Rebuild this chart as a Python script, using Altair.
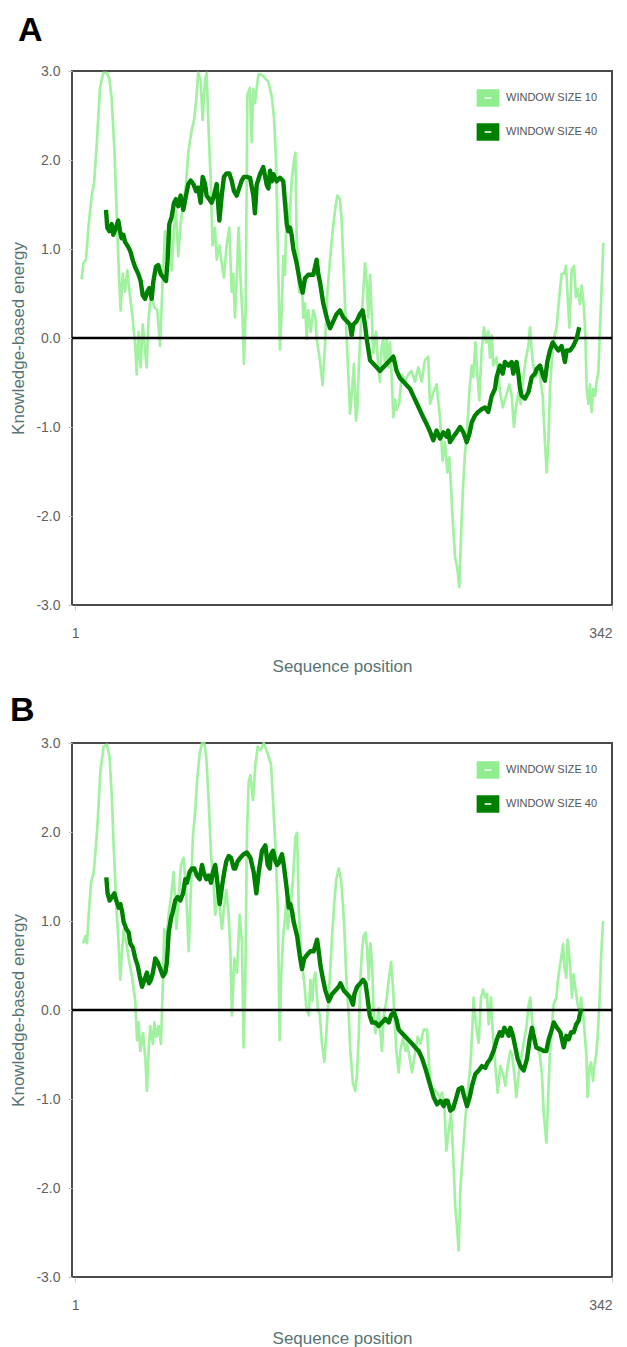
import altair as alt
import pandas as pd

# ---------------- data ----------------
LABEL10 = "WINDOW SIZE 10"
LABEL40 = "WINDOW SIZE 40"
SERIES = [LABEL10, LABEL40]
COLORS = ["#90ee90", "#008000"]
Y_TICKS = [-3, -2, -1, 0, 1, 2, 3]
X_TICKS = [1, 342]

# Panel A, window size 10
A_W10_POS = [5.1, 6.2, 7.9, 9.4, 11.5, 13.0, 14.7, 16.8, 18.9, 21.0, 22.7, 24.2, 25.9, 27.4, 28.8, 29.9,
             31.2, 32.7, 34.1, 35.8, 37.5, 39.2, 40.1, 41.3, 42.6, 43.9, 45.2, 46.4, 47.7, 49.4, 51.1,
             53.2, 54.9, 56.6, 58.1, 59.5, 60.8, 62.3, 63.8, 65.0, 66.5, 68.0, 69.7, 71.4, 72.9, 75.0,
             76.5, 77.8, 79.2, 80.7, 82.0, 83.5, 84.5, 85.8, 87.1, 88.3, 89.8, 90.9, 92.6, 94.1, 95.5,
             97.2, 98.9, 100.4, 101.5, 102.5, 103.6, 104.8, 106.1, 107.4, 108.2, 109.3, 110.4, 112.0,
             113.1, 114.2, 115.2, 117.4, 119.5, 121.6, 123.7, 125.8, 127.3, 128.6, 130.1, 131.1, 132.2,
             133.2, 134.3, 135.4, 137.0, 138.5, 140.0, 140.9, 141.7, 143.4, 144.9, 146.0, 147.0, 148.1,
             149.1, 150.6, 152.3, 153.6, 154.4, 156.5, 158.2, 159.7, 161.2, 162.9, 164.6, 166.1, 167.5,
             169.2, 170.3, 171.3, 172.4, 173.5, 174.5, 175.6, 176.6, 178.1, 179.4, 180.2, 181.1, 182.4,
             184.0, 185.1, 186.2, 187.2, 188.3, 189.3, 190.4, 192.1, 193.6, 194.6, 195.7, 196.7, 197.8,
             198.9, 199.9, 201.0, 202.0, 203.1, 204.2, 205.2, 206.9, 208.4, 210.5, 212.6, 214.7, 216.9,
             219.0, 221.1, 223.2, 225.3, 226.4, 228.5, 230.6, 232.8, 234.4, 235.9, 237.4, 238.7, 239.5,
             240.8, 242.3, 243.8, 245.0, 246.5, 247.6, 248.6, 250.1, 251.4, 252.9, 253.9, 255.2, 256.5,
             257.7, 259.2, 260.7, 262.0, 263.4, 264.5, 265.6, 266.6, 268.7, 270.9, 272.6, 274.7, 276.8,
             278.3, 279.7, 281.0, 282.5, 284.0, 285.7, 287.4, 288.9, 289.9, 291.0, 292.0, 293.7, 295.2,
             296.3, 298.0, 299.4, 300.5, 301.6, 302.6, 303.7, 305.2, 306.8, 308.5, 310.0, 311.5, 312.8,
             313.6, 314.9, 316.4, 317.9, 319.1, 320.0, 321.7, 322.7, 324.2, 325.1, 325.9, 327.0, 328.0,
             329.1, 330.1, 331.2, 332.3, 333.3, 334.4, 335.4, 336.5]
A_W10_VAL = [0.66, 0.84, 0.88, 1.24, 1.60, 1.73, 2.17, 2.81, 2.98, 2.98, 2.92, 2.69, 2.13, 1.40, 0.72, 0.31,
             0.72, 0.52, 0.76, 0.48, 0.23, -0.09, -0.41, 0.07, -0.33, 0.15, -0.09, -0.33, 0.23, 0.52, 0.35,
             0.31, -0.09, 0.64, 1.20, 0.88, 1.24, 0.76, 1.24, 1.44, 0.92, 1.28, 1.52, 1.73, 2.09, 2.33,
             2.45, 2.65, 2.98, 2.90, 2.45, 2.90, 2.98, 2.33, 1.77, 1.04, 1.24, 0.88, 1.04, 0.84, 0.68,
             1.04, 1.24, 0.52, 0.72, 0.23, 0.64, 1.24, 0.64, 0.23, -0.29, 0.31, 2.73, 2.81,
             2.20, 2.80, 2.64, 2.96, 2.96, 2.92, 2.88, 2.72, 2.48, 2.00, 0.71, -0.13, 0.31,
             0.92, 0.71, 1.52, 1.24, 1.76, 2.00, 2.08, 1.12, 0.51, 0.63, 0.23, 0.39, -0.01,
             0.31, 0.07, 0.31, 0.23, -0.01, -0.25, -0.53, -0.09, 0.51, 0.88, 1.20, 1.44, 1.60,
             1.56, 1.32, 0.88, 0.39, -0.01, -0.41, -0.85, -0.65, -0.29, -0.93, -0.81, -0.37, 0.11,
             0.51, 0.84, 0.63, 0.23, 0.71, 0.31, -0.17, 0.07, -0.33, -0.49, -0.09, -0.01, -0.29,
             -0.01, -0.33, -0.05, -0.41, -0.89, -0.69, -0.81, -0.73, -0.41, -0.49, -0.41, -0.37, -0.49,
             -0.33, -0.49, -0.25, -0.21, -0.74, -0.61, -0.52, -0.91, -1.38, -1.17, -1.51, -1.34, -1.60,
             -2.03, -2.46, -2.59, -2.80, -2.03, -1.60, -1.30, -1.00, -0.61, -0.31, -0.44, -0.05, -0.40,
             -0.70, -0.14, 0.12, -0.05, 0.08, -0.22, 0.03, -0.31, -0.22, -0.61, -0.78, -0.65, -0.52,
             -0.65, -1.00, -0.78, -0.61, -0.74, -0.44, -0.22, -0.09, 0.12, -0.14, -0.31, -0.44, -0.31,
             -0.44, -0.65, -1.17, -1.51, -1.17, -0.57, -0.27, -0.01, 0.12, 0.46, 0.72, 0.72, 0.81,
             0.55, 0.12, 0.77, 0.81, 0.46, 0.55, 0.38, 0.59, 0.34, 0.03, -0.57, -0.74, -0.52,
             -0.83, -0.57, -0.65, -0.48, -0.39, 0.12, 0.55, 1.07]

# Panel A, window size 40
A_W40_POS = [20.6, 21.4, 22.7, 24.2, 25.2, 26.9, 28.4, 29.5, 30.5, 31.6, 32.7, 34.1, 35.4, 36.3, 37.5,
             39.0, 41.1, 42.6, 43.9, 45.4, 46.8, 48.1, 49.6, 50.7, 52.3, 53.8, 55.3, 57.0, 58.7, 59.6,
             60.8, 62.3, 63.8, 65.0, 66.5, 68.0, 69.7, 71.4, 72.9, 74.4, 76.1, 77.8, 79.2, 80.7, 82.0,
             83.5, 84.5, 86.2, 87.7, 89.2, 90.9, 92.6, 94.1, 95.5, 97.2, 98.9, 100.4, 101.9, 103.6,
             105.3, 106.8, 108.2, 109.9, 112.1, 114.2, 115.2, 116.3, 118.4, 120.5, 122.7, 123.7, 124.8,
             125.8, 126.9, 129.0, 131.1, 133.2, 134.3, 135.4, 136.4, 137.5, 138.5, 139.6, 141.7, 143.8,
             145.5, 147.0, 149.1, 152.3, 154.4, 155.5, 156.5, 158.6, 160.8, 162.9, 165.0, 167.1, 169.2,
             171.3, 173.5, 175.6, 176.6, 177.7, 179.8, 181.9, 183.6, 185.1, 186.2, 188.3, 190.4, 192.5,
             194.6, 196.7, 198.9, 201.0, 203.1, 204.2, 205.2, 207.3, 209.5, 211.6, 213.7, 215.8, 217.9,
             220.0, 222.1, 224.3, 226.4, 228.5, 230.6, 232.8, 234.9, 237.0, 238.0, 239.1, 241.2, 243.3,
             245.5, 247.6, 249.7, 251.4, 252.9, 255.0, 257.1, 259.2, 261.3, 263.4, 265.6, 267.7, 268.7,
             270.9, 272.6, 274.0, 276.2, 278.3, 279.3, 280.4, 281.4, 282.5, 283.6, 284.6, 286.7, 288.9,
             291.0, 293.1, 294.1, 296.3, 298.4, 299.4, 300.9, 302.6, 304.3, 305.8, 307.9, 310.0, 311.1,
             312.1, 313.2, 315.3, 317.4, 319.5, 321.2]
A_W40_VAL = [1.44, 1.24, 1.20, 1.28, 1.16, 1.24, 1.32, 1.20, 1.12, 1.16, 1.08, 1.04, 1.00, 0.96, 0.88,
             0.80, 0.72, 0.64, 0.48, 0.44, 0.52, 0.56, 0.44, 0.64, 0.80, 0.82, 0.72, 0.68, 0.64, 0.84,
             1.28, 1.36, 1.52, 1.56, 1.48, 1.60, 1.44, 1.60, 1.73, 1.77, 1.73, 1.65, 1.69, 1.52, 1.81,
             1.73, 1.60, 1.56, 1.52, 1.60, 1.73, 1.32, 1.60, 1.81, 1.85, 1.85, 1.77, 1.65, 1.60,
             1.69, 1.77, 1.81, 1.81, 1.80, 1.60, 1.40, 1.72, 1.84, 1.92, 1.72, 1.68, 1.88,
             1.76, 1.84, 1.76, 1.80, 1.76, 1.52, 1.28, 1.20, 1.24, 1.16, 1.00, 0.84, 0.63,
             0.51, 0.67, 0.71, 0.71, 0.88, 0.71, 0.63, 0.39, 0.23, 0.11, 0.19, 0.27, 0.31,
             0.23, 0.19, 0.15, 0.03, 0.15, 0.19, 0.27, 0.31, 0.15, -0.01, -0.25, -0.29, -0.33,
             -0.37, -0.33, -0.29, -0.25, -0.21, -0.29, -0.37, -0.45, -0.49, -0.53, -0.57, -0.65, -0.73,
             -0.81, -0.89, -0.97, -1.05, -1.15, -1.04, -1.13, -1.06, -1.11, -1.04, -1.17, -1.11, -1.06,
             -1.00, -1.06, -1.17, -1.08, -0.95, -0.87, -0.83, -0.80, -0.78, -0.83, -0.65, -0.57, -0.44,
             -0.31, -0.40, -0.27, -0.31, -0.27, -0.40, -0.31, -0.27, -0.40, -0.57, -0.65, -0.68, -0.61,
             -0.44, -0.40, -0.35, -0.31, -0.44, -0.48, -0.27, -0.14, -0.05, -0.09, -0.14, -0.09, -0.18,
             -0.27, -0.14, -0.14, -0.09, -0.01, 0.12]

# Panel B, window size 10
B_W10_POS = [6.0, 7.5, 8.5, 9.6, 11.1, 12.8, 13.8, 15.3, 17.0, 19.1, 21.2, 22.9, 24.4, 25.5, 27.2, 28.6,
             29.7, 30.8, 31.8, 33.5, 35.0, 37.1, 39.2, 40.3, 41.3, 42.4, 44.1, 45.6, 46.6, 47.7, 48.7,
             50.4, 51.3, 52.6, 54.0, 55.5, 56.8, 57.6, 58.9, 60.4, 61.9, 63.6, 65.3, 66.7, 68.2, 69.9,
             71.6, 73.1, 74.1, 75.8, 77.3, 78.4, 80.1, 81.6, 83.0, 84.3, 85.8, 87.3, 89.0, 90.0, 91.5,
             92.8, 94.3, 95.3, 97.0, 98.5, 99.6, 100.6, 102.1, 103.8, 105.5, 107.0, 108.0, 109.1, 110.1,
             111.2, 112.3, 114.0, 115.5, 117.0, 118.7, 120.8, 122.5, 124.0, 125.4, 126.7, 128.2, 129.7,
             130.9, 131.8, 133.1, 133.9, 135.2, 136.0, 137.7, 139.4, 140.9, 142.0, 143.0, 144.1, 145.1,
             146.6, 147.9, 149.4, 150.4, 151.7, 152.5, 153.6, 155.1, 156.4, 157.8, 159.3, 161.0, 162.7,
             164.2, 165.7, 166.9, 168.4, 169.9, 171.2, 172.0, 173.3, 174.8, 175.8, 177.5, 179.0, 180.1,
             181.1, 182.2, 183.2, 184.3, 185.4, 186.4, 187.5, 188.5, 189.6, 190.6, 191.7, 192.8, 193.8,
             194.9, 195.9, 197.0, 198.7, 200.2, 201.7, 202.9, 203.8, 205.0, 206.5, 207.6, 209.3, 210.8,
             211.8, 213.5, 215.0, 217.1, 218.6, 220.3, 222.4, 224.5, 226.2, 227.7, 229.2, 230.9, 232.5,
             234.0, 235.5, 236.8, 238.3, 239.7, 241.0, 242.5, 243.6, 244.6, 245.7, 247.4, 248.8, 249.9,
             251.0, 252.0, 253.1, 254.1, 255.8, 257.3, 258.8, 260.1, 261.5, 262.6, 263.7, 265.1, 266.4,
             267.9, 269.4, 271.1, 272.8, 274.3, 275.7, 277.4, 278.5, 280.0, 281.2, 282.7, 284.2, 285.9,
             287.6, 289.1, 290.1, 291.2, 292.7, 294.4, 296.1, 297.5, 298.6, 300.3, 301.1, 302.4, 303.9,
             304.9, 306.6, 308.1, 309.6, 310.9, 311.7, 313.0, 313.8, 315.1, 316.6, 317.6, 318.9, 320.2,
             321.5, 322.3, 323.6, 324.4, 325.7, 326.5, 327.8, 328.7, 329.9, 330.8, 332.0, 332.9, 334.2,
             335.0, 336.3]
B_W10_VAL = [0.75, 0.83, 0.75, 1.07, 1.43, 1.55, 1.75, 2.11, 2.68, 2.96, 2.98, 2.84, 2.36, 1.83, 1.15, 0.75,
             0.34, 0.66, 0.91, 0.75, 0.58, 0.38, 0.10, -0.34, -0.14, -0.46, -0.26, -0.54, -0.91, -0.46, -0.18,
             -0.38, -0.14, -0.30, -0.18, -0.38, 0.34, 0.91, 0.75, 1.07, 1.27, 1.55, 0.91, 1.23, 1.63, 1.71,
             1.31, 0.66, 1.15, 1.95, 2.24, 2.56, 2.88, 3.00, 3.00, 2.84, 2.36, 1.75, 1.39, 1.07, 1.35,
             1.15, 0.91, 1.11, 1.35, 1.07, 0.66, -0.06, 0.58, 0.42, 1.07, 0.75, -0.42, 0.34, 1.95,
             2.56, 2.64, 2.36, 2.76, 2.96, 2.92, 3.00, 2.92, 2.84, 2.76, 2.36, 1.83, 1.15,
             -0.34, 0.34, 0.83, 0.95, 1.23, 0.91, 1.15, 1.47, 1.95, 1.99, 1.15, 0.75, 0.50,
             0.30, 0.02, -0.06, 0.34, 0.10, 0.34, 0.42, 0.02, -0.06, -0.38, -0.58, -0.14, 0.34,
             0.83, 1.23, 1.47, 1.59, 1.47, 1.15, 0.91, 0.34, -0.06, -0.46, -0.83, -0.91, -0.70,
             -0.30, 0.34, 0.66, 0.83, 0.87, 0.70, 0.34, 0.75, 0.54, -0.06, -0.26, -0.14, 0.02,
             -0.26, -0.46, -0.06, 0.10, 0.34, 0.54, 0.26, -0.06, -0.46, -0.70, -0.46, -0.30, -0.46,
             -0.38, -0.54, -0.70, -0.46, -0.30, -0.38, -0.22, -0.22, -0.72, -0.93, -0.89, -0.93, -0.98,
             -0.93, -1.06, -1.58, -1.36, -1.15, -1.58, -2.23, -2.44, -2.70, -2.01, -1.58, -1.23, -1.02,
             -0.80, -0.63, -0.29, 0.14, -0.20, -0.37, 0.14, 0.23, 0.14, 0.18, -0.16, 0.14, -0.29,
             -0.63, -0.93, -0.63, -0.72, -0.85, -0.63, -0.46, -0.50, -0.72, -0.98, -0.72, -0.55, -0.37,
             -0.20, 0.06, 0.14, -0.12, -0.29, -0.42, -0.50, -0.72, -1.15, -1.49, -1.15, -0.55, -0.16,
             0.06, 0.14, 0.40, 0.57, 0.74, 0.49, 0.36, 0.79, 0.57, 0.14, 0.40, 0.23, 0.06,
             -0.03, 0.14, -0.03, -0.20, -0.50, -0.98, -0.63, -0.59, -0.80, -0.63, -0.50, -0.29, 0.14,
             0.57, 1.00]

# Panel B, window size 40
B_W40_POS = [20.8, 21.6, 22.9, 24.4, 25.9, 27.2, 28.6, 29.7, 30.8, 31.8, 33.5, 35.0, 36.0, 37.7, 39.2,
             40.7, 42.0, 43.5, 45.0, 46.6, 47.9, 49.2, 50.4, 51.9, 53.4, 55.1, 56.8, 58.3, 59.3, 60.4,
             61.9, 63.1, 64.6, 66.1, 67.8, 69.5, 71.0, 72.0, 73.7, 75.2, 76.7, 78.4, 80.1, 81.6, 82.6,
             84.3, 85.8, 87.3, 88.5, 90.0, 91.1, 92.8, 94.3, 95.7, 97.0, 98.5, 100.0, 101.7, 102.7,
             104.2, 105.9, 108.0, 110.1, 112.3, 114.4, 116.1, 117.6, 119.7, 121.8, 123.3, 124.6, 125.4,
             126.7, 128.2, 129.3, 130.3, 131.4, 132.4, 133.5, 135.2, 136.7, 137.7, 138.8, 139.8, 142.0,
             143.6, 145.1, 146.6, 148.3, 150.4, 152.5, 154.7, 155.7, 156.8, 158.5, 159.9, 162.1, 164.2,
             166.3, 168.4, 169.5, 171.6, 173.7, 175.8, 177.5, 178.4, 180.1, 182.2, 183.9, 185.4, 186.4,
             188.1, 189.6, 191.7, 193.8, 195.9, 198.1, 200.2, 201.7, 203.4, 205.0, 206.5, 208.6, 210.8,
             212.9, 215.0, 217.1, 219.2, 221.3, 223.5, 224.5, 226.6, 228.7, 230.9, 233.0, 235.1, 236.1,
             237.6, 239.3, 241.0, 242.5, 244.6, 246.7, 248.2, 249.9, 251.6, 253.1, 255.2, 257.3, 259.4,
             261.5, 263.0, 264.7, 266.8, 268.9, 270.7, 272.1, 273.6, 275.3, 276.4, 277.4, 279.1, 280.6,
             282.1, 283.8, 285.9, 288.0, 289.7, 291.2, 292.2, 293.9, 296.5, 298.6, 300.3, 301.8, 303.3,
             305.0, 307.1, 309.2, 311.3, 313.0, 314.5, 316.0, 317.7, 319.3, 320.8, 322.3]
B_W40_VAL = [1.49, 1.31, 1.23, 1.27, 1.31, 1.23, 1.15, 1.19, 1.11, 0.99, 0.91, 0.87, 0.75, 0.70, 0.58,
             0.50, 0.38, 0.26, 0.34, 0.42, 0.30, 0.34, 0.42, 0.58, 0.54, 0.46, 0.38, 0.42, 0.54, 0.87,
             1.03, 1.11, 1.23, 1.27, 1.23, 1.31, 1.47, 1.43, 1.55, 1.59, 1.59, 1.51, 1.47, 1.63, 1.55,
             1.47, 1.51, 1.43, 1.55, 1.63, 1.47, 1.19, 1.39, 1.55, 1.67, 1.73, 1.71, 1.59, 1.59,
             1.67, 1.71, 1.75, 1.77, 1.71, 1.55, 1.31, 1.55, 1.79, 1.85, 1.63, 1.59, 1.75,
             1.79, 1.67, 1.63, 1.65, 1.71, 1.75, 1.63, 1.39, 1.15, 1.19, 1.11, 0.99, 0.83,
             0.62, 0.46, 0.58, 0.62, 0.66, 0.66, 0.79, 0.66, 0.50, 0.34, 0.22, 0.10, 0.18,
             0.22, 0.26, 0.30, 0.22, 0.18, 0.14, 0.06, 0.18, 0.26, 0.30, 0.34, 0.30, 0.18,
             -0.06, -0.14, -0.14, -0.18, -0.14, -0.10, -0.14, -0.06, -0.02, -0.10, -0.22, -0.26, -0.30,
             -0.34, -0.38, -0.42, -0.46, -0.54, -0.66, -0.72, -0.85, -0.98, -1.06, -1.02, -1.08, -1.02,
             -1.02, -1.13, -1.11, -1.02, -0.89, -0.87, -0.98, -1.08, -0.98, -0.85, -0.72, -0.68, -0.63,
             -0.65, -0.59, -0.55, -0.46, -0.33, -0.25, -0.29, -0.20, -0.25, -0.29, -0.20, -0.29, -0.42,
             -0.55, -0.63, -0.68, -0.55, -0.33, -0.20, -0.29, -0.42, -0.44, -0.46, -0.46, -0.33, -0.25,
             -0.14, -0.20, -0.25, -0.42, -0.29, -0.33, -0.25, -0.25, -0.16, -0.12, 0.01]

# ---------------- styling ----------------
FONT = "Liberation Sans"
TITLE_COLOR = "#587373"
LABEL_COLOR = "#5f5f5f"
# rectangular swatch drawn by a wide stroke (leaves a small dash in the middle)
SWATCH = "M-0.82,-0.54H0.82V0.54H-0.82Z"
Y_LABEL_EXPR = "(datum.value < 0 ? '-' : '') + format(abs(datum.value), '.1f')"


def frame(pos10, val10, pos40, val40):
    rows = [{"pos": p, "val": v, "series": LABEL10} for p, v in zip(pos10, val10)]
    rows += [{"pos": p, "val": v, "series": LABEL40} for p, v in zip(pos40, val40)]
    return pd.DataFrame(rows)


def panel(df, letter, title_dx, title_offset):
    x = alt.X("pos:Q",
              scale=alt.Scale(domain=[-1, 342], nice=False, zero=False),
              axis=alt.Axis(values=X_TICKS, title="Sequence position", grid=False, domain=False,
                            labelFont=FONT, labelFontSize=14, labelColor=LABEL_COLOR,
                            labelPadding=16, tickSize=5, tickColor="#d0d0d0",
                            titleFont=FONT, titleFontSize=17, titleFontWeight="normal",
                            titleColor=TITLE_COLOR, titlePadding=18))
    y = alt.Y("val:Q",
              scale=alt.Scale(domain=[-3, 3], nice=False, zero=False),
              axis=alt.Axis(values=Y_TICKS, labelExpr=Y_LABEL_EXPR, title="Knowledge-based energy",
                            grid=False, domain=False,
                            labelFont=FONT, labelFontSize=14, labelColor=LABEL_COLOR,
                            labelPadding=8, tickSize=4, tickColor="#c8c8c8",
                            titleFont=FONT, titleFontSize=17, titleFontWeight="normal",
                            titleColor=TITLE_COLOR, titlePadding=8))
    legend = alt.Legend(
        title=None, orient="none", legendX=403, legendY=14,
        symbolType=SWATCH, symbolSize=324, symbolStrokeWidth=8,
        symbolOpacity=1, rowPadding=-8, labelOffset=5,
        labelFont=FONT, labelFontSize=11, labelColor="#555555")
    color = alt.Color("series:N", scale=alt.Scale(domain=SERIES, range=COLORS), legend=legend)

    base = alt.Chart(df)
    light = base.transform_filter(alt.datum.series == LABEL10).mark_line(
        strokeWidth=2.7, opacity=0.85, strokeJoin="round").encode(x=x, y=y, color=color)
    dark = base.transform_filter(alt.datum.series == LABEL40).mark_line(
        strokeWidth=4.4, strokeJoin="round").encode(x=x, y=y, color=color)
    zero = alt.Chart(pd.DataFrame({"val": [0]})).mark_rule(
        color="black", strokeWidth=2.6).encode(y=alt.Y("val:Q"))

    return alt.layer(light, zero, dark).properties(
        width=540, height=534,
        title=alt.TitleParams(letter, anchor="start", frame="bounds", font=FONT,
                              fontSize=34, fontWeight="bold", color="black",
                              offset=title_offset, dx=title_dx))


panel_a = panel(frame(A_W10_POS, A_W10_VAL, A_W40_POS, A_W40_VAL), "A", 8, 16)
panel_b = panel(frame(B_W10_POS, B_W10_VAL, B_W40_POS, B_W40_VAL), "B", 0, 8)

chart = alt.vconcat(panel_a, panel_b, spacing=18).resolve_scale(
    color="independent").resolve_legend(color="independent").properties(
    padding={"left": 0, "top": 5, "right": 0, "bottom": 0}).configure_view(
    stroke="#4a4a4a", strokeWidth=2)

chart.save("out.html", embed_options={"renderer": "svg", "actions": False})
